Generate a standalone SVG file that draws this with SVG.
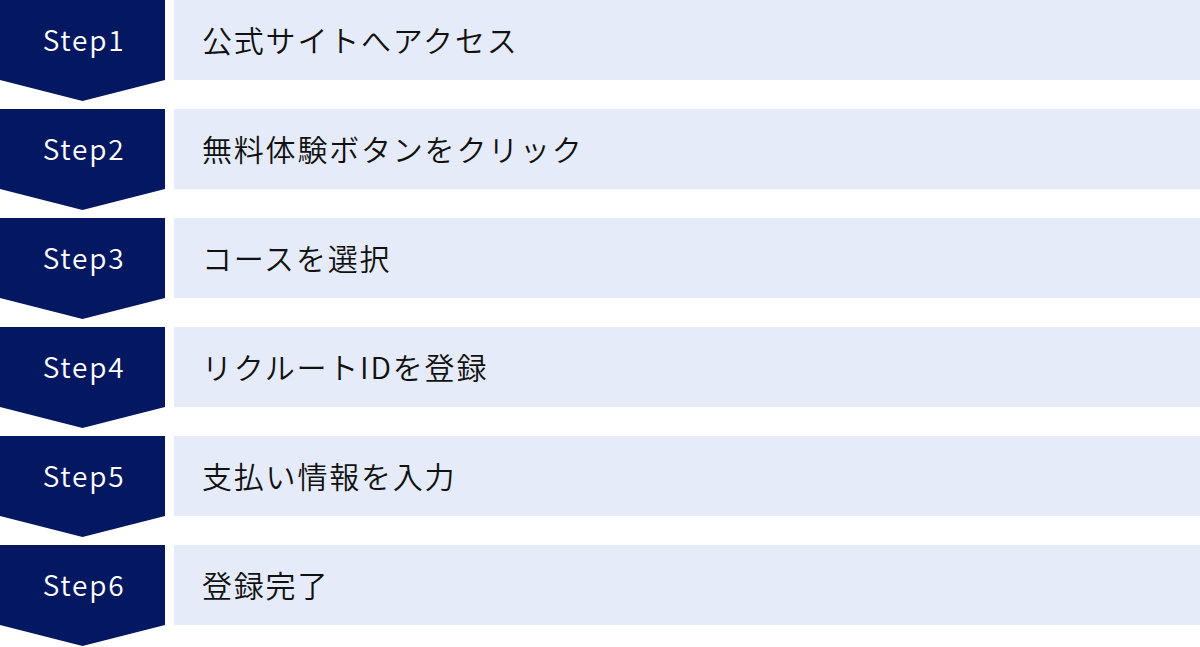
<svg xmlns="http://www.w3.org/2000/svg" width="1200" height="647" viewBox="0 0 1200 647">
  <style>
    .chev { fill: #041862; }
    .bar { fill: #E5EBF8; }
    .lbl { font-family: "Noto Sans CJK JP", "Noto Sans", sans-serif; font-size: 28px; font-weight: 350; fill: #FFFFFF; letter-spacing: 1.8px; text-anchor: middle; }
    .txt { font-family: "Noto Sans CJK JP", "Noto Sans", sans-serif; font-size: 30px; font-weight: 350; fill: #111111; letter-spacing: 1.8px; }
  </style>
  <defs>
    <polygon id="chevShape" points="0,0 165,0 165,80 82.5,101 0,80"/>
  </defs>
  <g id="connectors"></g>
  <g id="step1" transform="translate(0,0)">
    <use href="#chevShape" class="chev"/>
    <rect class="bar" x="174" y="0" width="1026" height="80"/>
    <text class="lbl" x="84" y="51">Step1</text>
    <text class="txt" x="202" y="52">公式サイトへアクセス</text>
  </g>
  <g id="step2" transform="translate(0,109)">
    <use href="#chevShape" class="chev"/>
    <rect class="bar" x="174" y="0" width="1026" height="80"/>
    <text class="lbl" x="84" y="51">Step2</text>
    <text class="txt" x="202" y="52">無料体験ボタンをクリック</text>
  </g>
  <g id="step3" transform="translate(0,218)">
    <use href="#chevShape" class="chev"/>
    <rect class="bar" x="174" y="0" width="1026" height="80"/>
    <text class="lbl" x="84" y="51">Step3</text>
    <text class="txt" x="202" y="52">コースを選択</text>
  </g>
  <g id="step4" transform="translate(0,327)">
    <use href="#chevShape" class="chev"/>
    <rect class="bar" x="174" y="0" width="1026" height="80"/>
    <text class="lbl" x="84" y="51">Step4</text>
    <text class="txt" x="202" y="52">リクルートIDを登録</text>
  </g>
  <g id="step5" transform="translate(0,436)">
    <use href="#chevShape" class="chev"/>
    <rect class="bar" x="174" y="0" width="1026" height="80"/>
    <text class="lbl" x="84" y="51">Step5</text>
    <text class="txt" x="202" y="52">支払い情報を入力</text>
  </g>
  <g id="step6" transform="translate(0,545)">
    <use href="#chevShape" class="chev"/>
    <rect class="bar" x="174" y="0" width="1026" height="80"/>
    <text class="lbl" x="84" y="51">Step6</text>
    <text class="txt" x="202" y="52">登録完了</text>
  </g>
</svg>
